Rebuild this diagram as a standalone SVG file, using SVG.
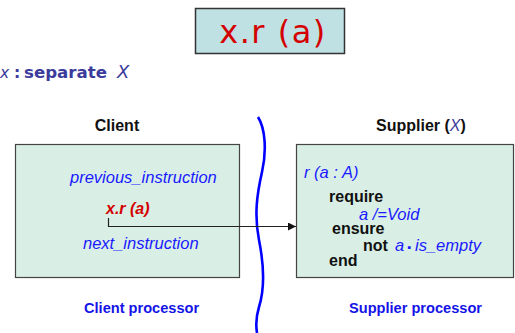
<svg xmlns="http://www.w3.org/2000/svg" width="515" height="333" viewBox="0 0 515 333">
  <defs>
    <marker id="arrow" viewBox="0 0 10 10" refX="10" refY="5" markerWidth="10" markerHeight="8" markerUnits="userSpaceOnUse" orient="auto">
      <path d="M0,0 L10,5 L0,10 z" fill="#111"/>
    </marker>
    <style>
      .box { fill: #d9efe5; stroke: #444; stroke-width: 1.2; }
      .sans { font-family: "Liberation Sans", Arial, sans-serif; }
      .head { font-family: "Liberation Sans", Arial, sans-serif; font-weight: bold; font-size: 16px; fill: #111; }
      .code { font-family: "Liberation Sans", Arial, sans-serif; font-style: italic; font-size: 16.5px; fill: #1a1aff; }
      .kw { font-family: "Liberation Sans", Arial, sans-serif; font-weight: bold; font-size: 16px; fill: #111; }
      .proc { font-family: "Liberation Sans", Arial, sans-serif; font-weight: bold; font-size: 14.6px; fill: #1414e6; }
    </style>
  </defs>
  <rect width="515" height="333" fill="#fff"/>

  <!-- call expression banner -->
  <g id="title">
    <rect x="195.5" y="8.5" width="149" height="45" fill="#bfe1e4" stroke="#333" stroke-width="1.5"/>
    <text x="273" y="43" text-anchor="middle" font-family="'DejaVu Sans', Verdana, sans-serif" font-size="32" letter-spacing="1.5" fill="#d40000">x.r (a)</text>
  </g>

  <!-- declaration -->
  <g id="declaration" font-family="'DejaVu Sans', Verdana, sans-serif" font-size="15.5" fill="#3b3b9c">
    <text x="0" y="78" font-style="italic">x</text>
    <text x="14" y="78" font-weight="bold">:</text>
    <text x="24" y="78" font-weight="bold" textLength="83" lengthAdjust="spacingAndGlyphs">separate</text>
    <text x="117" y="78" font-style="italic" font-size="18">X</text>
  </g>

  <!-- client processor -->
  <g id="client">
    <text class="head" x="117" y="131" text-anchor="middle">Client</text>
    <rect class="box" x="15.5" y="144.5" width="224" height="133"/>
    <text class="code" x="70" y="183">previous_instruction</text>
    <text x="106" y="214" class="sans" font-weight="bold" font-style="italic" font-size="16" fill="#d40000">x.r (a)</text>
    <text class="code" x="83" y="249">next_instruction</text>
    <text class="proc" x="84" y="313">Client processor</text>
  </g>

  <!-- supplier processor -->
  <g id="supplier">
    <text class="head" x="376" y="131">Supplier (<tspan font-weight="normal" font-style="italic" fill="#3b3b9c">X</tspan>)</text>
    <rect class="box" x="296.5" y="144.5" width="217" height="133"/>
    <text class="code" x="304" y="178">r (a : A)</text>
    <text class="kw" x="329" y="202">require</text>
    <text class="code" x="359" y="220">a /=Void</text>
    <text class="kw" x="332" y="234">ensure</text>
    <text class="kw" x="363" y="251">not</text>
    <text class="code" x="395" y="251">a<tspan x="407.5" font-style="normal" font-size="11">▪</tspan><tspan x="415">is_empty</tspan></text>
    <text class="kw" x="329" y="266">end</text>
    <text class="proc" x="349" y="313">Supplier processor</text>
  </g>

  <!-- processor boundary -->
  <g id="boundary">
    <path d="M258,117 C265,128 267,150 262,172 C257,194 254,215 259,240 C264,265 265,288 259,307 C255,320 256,327 257,333" fill="none" stroke="#0000ff" stroke-width="2.6"/>
  </g>

  <!-- call connector -->
  <g id="connectors">
    <path d="M108.5,218 V226.5 H296" fill="none" stroke="#222" stroke-width="1.2" marker-end="url(#arrow)"/>
  </g>
</svg>
